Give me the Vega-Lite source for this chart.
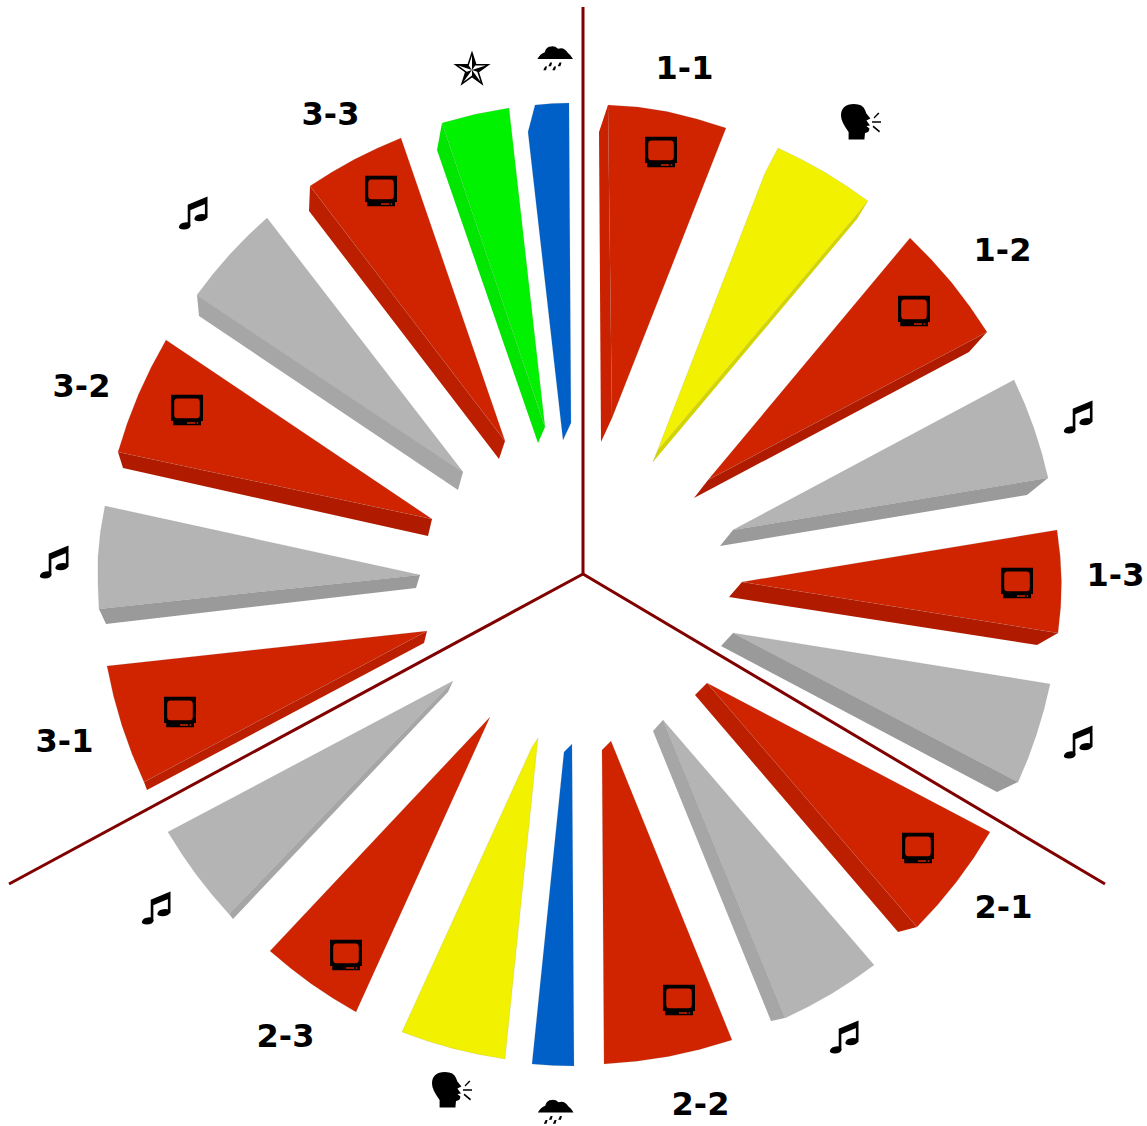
{"$schema":"https://vega.github.io/schema/vega-lite/v6.json","width":1147,"height":1126,"padding":0,"autosize":{"type":"none"},"background":"white","config":{"view":{"stroke":null}},
"datasets":{
"spokes":[{"spoke":"a","seq":0,"x":583,"y":7},{"spoke":"a","seq":1,"x":583,"y":574},{"spoke":"b","seq":0,"x":583,"y":574},{"spoke":"b","seq":1,"x":1105,"y":884},{"spoke":"c","seq":0,"x":583,"y":574},{"spoke":"c","seq":1,"x":9,"y":884}],
"sides":[
{"wedge":"1-1","surface":"tv side faint","seq":0,"x":608,"y":105},{"wedge":"1-1","surface":"tv side faint","seq":1,"x":599,"y":132},{"wedge":"1-1","surface":"tv side faint","seq":2,"x":601,"y":442},{"wedge":"1-1","surface":"tv side faint","seq":3,"x":612,"y":418},
{"wedge":"s1","surface":"speech side","seq":0,"x":868,"y":201},{"wedge":"s1","surface":"speech side","seq":1,"x":857,"y":219},{"wedge":"s1","surface":"speech side","seq":2,"x":653,"y":462},{"wedge":"s1","surface":"speech side","seq":3,"x":658,"y":450},
{"wedge":"1-2","surface":"tv side","seq":0,"x":987,"y":332},{"wedge":"1-2","surface":"tv side","seq":1,"x":969,"y":352},{"wedge":"1-2","surface":"tv side","seq":2,"x":694,"y":498},{"wedge":"1-2","surface":"tv side","seq":3,"x":708,"y":480},
{"wedge":"m1","surface":"music side","seq":0,"x":1048,"y":478},{"wedge":"m1","surface":"music side","seq":1,"x":1027,"y":495},{"wedge":"m1","surface":"music side","seq":2,"x":720,"y":546},{"wedge":"m1","surface":"music side","seq":3,"x":733,"y":530},
{"wedge":"1-3","surface":"tv side","seq":0,"x":1058,"y":633},{"wedge":"1-3","surface":"tv side","seq":1,"x":1037,"y":645},{"wedge":"1-3","surface":"tv side","seq":2,"x":729,"y":597},{"wedge":"1-3","surface":"tv side","seq":3,"x":742,"y":582},
{"wedge":"m2","surface":"music side","seq":0,"x":733,"y":633},{"wedge":"m2","surface":"music side","seq":1,"x":1018,"y":782},{"wedge":"m2","surface":"music side","seq":2,"x":997,"y":792},{"wedge":"m2","surface":"music side","seq":3,"x":721,"y":646},
{"wedge":"2-1","surface":"tv side soft","seq":0,"x":707,"y":683},{"wedge":"2-1","surface":"tv side soft","seq":1,"x":917,"y":927},{"wedge":"2-1","surface":"tv side soft","seq":2,"x":898,"y":932},{"wedge":"2-1","surface":"tv side soft","seq":3,"x":695,"y":695},
{"wedge":"m3","surface":"music side soft","seq":0,"x":663,"y":720},{"wedge":"m3","surface":"music side soft","seq":1,"x":785,"y":1018},{"wedge":"m3","surface":"music side soft","seq":2,"x":771,"y":1021},{"wedge":"m3","surface":"music side soft","seq":3,"x":653,"y":731},
{"wedge":"m4","surface":"music side soft","seq":0,"x":453,"y":681},{"wedge":"m4","surface":"music side soft","seq":1,"x":448,"y":692},{"wedge":"m4","surface":"music side soft","seq":2,"x":233,"y":919},{"wedge":"m4","surface":"music side soft","seq":3,"x":229,"y":914},
{"wedge":"3-1","surface":"tv side soft","seq":0,"x":144,"y":782},{"wedge":"3-1","surface":"tv side soft","seq":1,"x":147,"y":790},{"wedge":"3-1","surface":"tv side soft","seq":2,"x":424,"y":643},{"wedge":"3-1","surface":"tv side soft","seq":3,"x":427,"y":631},
{"wedge":"m5","surface":"music side","seq":0,"x":99,"y":609},{"wedge":"m5","surface":"music side","seq":1,"x":106,"y":624},{"wedge":"m5","surface":"music side","seq":2,"x":416,"y":588},{"wedge":"m5","surface":"music side","seq":3,"x":420,"y":575},
{"wedge":"3-2","surface":"tv side","seq":0,"x":118,"y":452},{"wedge":"3-2","surface":"tv side","seq":1,"x":123,"y":468},{"wedge":"3-2","surface":"tv side","seq":2,"x":428,"y":536},{"wedge":"3-2","surface":"tv side","seq":3,"x":432,"y":519},
{"wedge":"m6","surface":"music side soft","seq":0,"x":197,"y":295},{"wedge":"m6","surface":"music side soft","seq":1,"x":199,"y":316},{"wedge":"m6","surface":"music side soft","seq":2,"x":458,"y":490},{"wedge":"m6","surface":"music side soft","seq":3,"x":463,"y":472},
{"wedge":"3-3","surface":"tv side soft","seq":0,"x":310,"y":186},{"wedge":"3-3","surface":"tv side soft","seq":1,"x":309,"y":211},{"wedge":"3-3","surface":"tv side soft","seq":2,"x":499,"y":459},{"wedge":"3-3","surface":"tv side soft","seq":3,"x":505,"y":441},
{"wedge":"g1","surface":"star side","seq":0,"x":442,"y":123},{"wedge":"g1","surface":"star side","seq":1,"x":437,"y":150},{"wedge":"g1","surface":"star side","seq":2,"x":538,"y":443},{"wedge":"g1","surface":"star side","seq":3,"x":545,"y":427}
],
"tops":[
{"wedge":"1-1","surface":"tv top","seq":0,"x":608,"y":105},{"wedge":"1-1","surface":"tv top","seq":1,"x":638,"y":107},{"wedge":"1-1","surface":"tv top","seq":2,"x":667,"y":111.5},{"wedge":"1-1","surface":"tv top","seq":3,"x":697,"y":119},{"wedge":"1-1","surface":"tv top","seq":4,"x":726,"y":128},{"wedge":"1-1","surface":"tv top","seq":5,"x":612,"y":418},{"wedge":"1-1","surface":"tv top","seq":6,"x":608,"y":105},
{"wedge":"s1","surface":"speech top","seq":0,"x":778,"y":148},{"wedge":"s1","surface":"speech top","seq":1,"x":801.6,"y":159.4},{"wedge":"s1","surface":"speech top","seq":2,"x":824.5,"y":172},{"wedge":"s1","surface":"speech top","seq":3,"x":846.6,"y":185.9},{"wedge":"s1","surface":"speech top","seq":4,"x":868,"y":201},{"wedge":"s1","surface":"speech top","seq":5,"x":658,"y":450},{"wedge":"s1","surface":"speech top","seq":6,"x":653,"y":462},{"wedge":"s1","surface":"speech top","seq":7,"x":765,"y":173},{"wedge":"s1","surface":"speech top","seq":8,"x":778,"y":148},
{"wedge":"1-2","surface":"tv top","seq":0,"x":910,"y":238},{"wedge":"1-2","surface":"tv top","seq":1,"x":931.5,"y":259.7},{"wedge":"1-2","surface":"tv top","seq":2,"x":951.6,"y":282.6},{"wedge":"1-2","surface":"tv top","seq":3,"x":970,"y":306.7},{"wedge":"1-2","surface":"tv top","seq":4,"x":987,"y":332},{"wedge":"1-2","surface":"tv top","seq":5,"x":708,"y":480},{"wedge":"1-2","surface":"tv top","seq":6,"x":910,"y":238},
{"wedge":"m1","surface":"music top","seq":0,"x":1014,"y":380},{"wedge":"m1","surface":"music top","seq":1,"x":1024.6,"y":403.8},{"wedge":"m1","surface":"music top","seq":2,"x":1033.8,"y":428.1},{"wedge":"m1","surface":"music top","seq":3,"x":1041.6,"y":452.8},{"wedge":"m1","surface":"music top","seq":4,"x":1048,"y":478},{"wedge":"m1","surface":"music top","seq":5,"x":733,"y":530},{"wedge":"m1","surface":"music top","seq":6,"x":1014,"y":380},
{"wedge":"1-3","surface":"tv top","seq":0,"x":1057,"y":530},{"wedge":"1-3","surface":"tv top","seq":1,"x":1060.2,"y":556},{"wedge":"1-3","surface":"tv top","seq":2,"x":1061.5,"y":582},{"wedge":"1-3","surface":"tv top","seq":3,"x":1060.7,"y":607.3},{"wedge":"1-3","surface":"tv top","seq":4,"x":1058,"y":633},{"wedge":"1-3","surface":"tv top","seq":5,"x":742,"y":582},{"wedge":"1-3","surface":"tv top","seq":6,"x":1057,"y":530},
{"wedge":"m2","surface":"music top","seq":0,"x":733,"y":633},{"wedge":"m2","surface":"music top","seq":1,"x":1050,"y":684},{"wedge":"m2","surface":"music top","seq":2,"x":1044,"y":709.2},{"wedge":"m2","surface":"music top","seq":3,"x":1036.6,"y":733.9},{"wedge":"m2","surface":"music top","seq":4,"x":1028,"y":758.2},{"wedge":"m2","surface":"music top","seq":5,"x":1018,"y":782},{"wedge":"m2","surface":"music top","seq":6,"x":733,"y":633},
{"wedge":"2-1","surface":"tv top","seq":0,"x":707,"y":683},{"wedge":"2-1","surface":"tv top","seq":1,"x":990,"y":832},{"wedge":"2-1","surface":"tv top","seq":2,"x":974,"y":857.6},{"wedge":"2-1","surface":"tv top","seq":3,"x":956.4,"y":881.9},{"wedge":"2-1","surface":"tv top","seq":4,"x":937.5,"y":905},{"wedge":"2-1","surface":"tv top","seq":5,"x":917,"y":927},{"wedge":"2-1","surface":"tv top","seq":6,"x":707,"y":683},
{"wedge":"m3","surface":"music top","seq":0,"x":663,"y":720},{"wedge":"m3","surface":"music top","seq":1,"x":874,"y":965},{"wedge":"m3","surface":"music top","seq":2,"x":852.9,"y":980.1},{"wedge":"m3","surface":"music top","seq":3,"x":831,"y":994},{"wedge":"m3","surface":"music top","seq":4,"x":808.4,"y":1006.6},{"wedge":"m3","surface":"music top","seq":5,"x":785,"y":1018},{"wedge":"m3","surface":"music top","seq":6,"x":663,"y":720},
{"wedge":"2-2","surface":"tv top","seq":0,"x":611,"y":741},{"wedge":"2-2","surface":"tv top","seq":1,"x":732,"y":1040},{"wedge":"2-2","surface":"tv top","seq":2,"x":700.6,"y":1049.3},{"wedge":"2-2","surface":"tv top","seq":3,"x":668.8,"y":1056.4},{"wedge":"2-2","surface":"tv top","seq":4,"x":636.6,"y":1061.3},{"wedge":"2-2","surface":"tv top","seq":5,"x":604,"y":1064},{"wedge":"2-2","surface":"tv top","seq":6,"x":602,"y":750},{"wedge":"2-2","surface":"tv top","seq":7,"x":611,"y":741},
{"wedge":"r2","surface":"rain top","seq":0,"x":572,"y":744},{"wedge":"r2","surface":"rain top","seq":1,"x":574,"y":1066},{"wedge":"r2","surface":"rain top","seq":2,"x":553,"y":1065.5},{"wedge":"r2","surface":"rain top","seq":3,"x":532,"y":1064},{"wedge":"r2","surface":"rain top","seq":4,"x":564,"y":752},{"wedge":"r2","surface":"rain top","seq":5,"x":572,"y":744},
{"wedge":"s2","surface":"speech top","seq":0,"x":538,"y":738},{"wedge":"s2","surface":"speech top","seq":1,"x":505,"y":1059},{"wedge":"s2","surface":"speech top","seq":2,"x":478.7,"y":1054.4},{"wedge":"s2","surface":"speech top","seq":3,"x":452.7,"y":1048.4},{"wedge":"s2","surface":"speech top","seq":4,"x":427.2,"y":1040.9},{"wedge":"s2","surface":"speech top","seq":5,"x":402,"y":1032},{"wedge":"s2","surface":"speech top","seq":6,"x":532,"y":747},{"wedge":"s2","surface":"speech top","seq":7,"x":538,"y":738},
{"wedge":"2-3","surface":"tv top","seq":0,"x":490,"y":717},{"wedge":"2-3","surface":"tv top","seq":1,"x":356,"y":1012},{"wedge":"2-3","surface":"tv top","seq":2,"x":333.3,"y":998.6},{"wedge":"2-3","surface":"tv top","seq":3,"x":311.4,"y":983.9},{"wedge":"2-3","surface":"tv top","seq":4,"x":290.3,"y":968.1},{"wedge":"2-3","surface":"tv top","seq":5,"x":270,"y":951},{"wedge":"2-3","surface":"tv top","seq":6,"x":490,"y":717},
{"wedge":"m4","surface":"music top","seq":0,"x":453,"y":681},{"wedge":"m4","surface":"music top","seq":1,"x":168,"y":832},{"wedge":"m4","surface":"music top","seq":2,"x":181.7,"y":853.7},{"wedge":"m4","surface":"music top","seq":3,"x":196.4,"y":874.7},{"wedge":"m4","surface":"music top","seq":4,"x":212.2,"y":894.7},{"wedge":"m4","surface":"music top","seq":5,"x":229,"y":914},{"wedge":"m4","surface":"music top","seq":6,"x":453,"y":681},
{"wedge":"3-1","surface":"tv top","seq":0,"x":427,"y":631},{"wedge":"3-1","surface":"tv top","seq":1,"x":107,"y":666},{"wedge":"3-1","surface":"tv top","seq":2,"x":113.5,"y":695.9},{"wedge":"3-1","surface":"tv top","seq":3,"x":121.8,"y":725.2},{"wedge":"3-1","surface":"tv top","seq":4,"x":132,"y":753.9},{"wedge":"3-1","surface":"tv top","seq":5,"x":144,"y":782},{"wedge":"3-1","surface":"tv top","seq":6,"x":427,"y":631},
{"wedge":"m5","surface":"music top","seq":0,"x":420,"y":575},{"wedge":"m5","surface":"music top","seq":1,"x":105,"y":506},{"wedge":"m5","surface":"music top","seq":2,"x":100.5,"y":531.6},{"wedge":"m5","surface":"music top","seq":3,"x":98,"y":557},{"wedge":"m5","surface":"music top","seq":4,"x":98,"y":583},{"wedge":"m5","surface":"music top","seq":5,"x":99,"y":609},{"wedge":"m5","surface":"music top","seq":6,"x":420,"y":575},
{"wedge":"3-2","surface":"tv top","seq":0,"x":166,"y":340},{"wedge":"3-2","surface":"tv top","seq":1,"x":151.3,"y":366.9},{"wedge":"3-2","surface":"tv top","seq":2,"x":138.4,"y":394.5},{"wedge":"3-2","surface":"tv top","seq":3,"x":127.3,"y":422.9},{"wedge":"3-2","surface":"tv top","seq":4,"x":118,"y":452},{"wedge":"3-2","surface":"tv top","seq":5,"x":432,"y":519},{"wedge":"3-2","surface":"tv top","seq":6,"x":166,"y":340},
{"wedge":"m6","surface":"music top","seq":0,"x":267,"y":218},{"wedge":"m6","surface":"music top","seq":1,"x":247.9,"y":235.8},{"wedge":"m6","surface":"music top","seq":2,"x":229.8,"y":254.6},{"wedge":"m6","surface":"music top","seq":3,"x":212.9,"y":274.3},{"wedge":"m6","surface":"music top","seq":4,"x":197,"y":295},{"wedge":"m6","surface":"music top","seq":5,"x":463,"y":472},{"wedge":"m6","surface":"music top","seq":6,"x":267,"y":218},
{"wedge":"3-3","surface":"tv top","seq":0,"x":401,"y":138},{"wedge":"3-3","surface":"tv top","seq":1,"x":377.2,"y":148.2},{"wedge":"3-3","surface":"tv top","seq":2,"x":354.1,"y":159.5},{"wedge":"3-3","surface":"tv top","seq":3,"x":331.7,"y":172.2},{"wedge":"3-3","surface":"tv top","seq":4,"x":310,"y":186},{"wedge":"3-3","surface":"tv top","seq":5,"x":505,"y":441},{"wedge":"3-3","surface":"tv top","seq":6,"x":401,"y":138},
{"wedge":"g1","surface":"star top","seq":0,"x":509,"y":108},{"wedge":"g1","surface":"star top","seq":1,"x":545,"y":427},{"wedge":"g1","surface":"star top","seq":2,"x":442,"y":123},{"wedge":"g1","surface":"star top","seq":3,"x":475.2,"y":114.2},{"wedge":"g1","surface":"star top","seq":4,"x":509,"y":108},
{"wedge":"r1","surface":"rain top","seq":0,"x":569,"y":103},{"wedge":"r1","surface":"rain top","seq":1,"x":571,"y":423},{"wedge":"r1","surface":"rain top","seq":2,"x":563,"y":440},{"wedge":"r1","surface":"rain top","seq":3,"x":528,"y":132},{"wedge":"r1","surface":"rain top","seq":4,"x":535,"y":105},{"wedge":"r1","surface":"rain top","seq":5,"x":552,"y":103.5},{"wedge":"r1","surface":"rain top","seq":6,"x":569,"y":103}
],
"icons":[
{"icon":"tv","x":661,"y":152},{"icon":"tv","x":914,"y":311},{"icon":"tv","x":1017,"y":583},{"icon":"tv","x":918,"y":848},{"icon":"tv","x":679,"y":1000},{"icon":"tv","x":346,"y":955},{"icon":"tv","x":180,"y":712},{"icon":"tv","x":187,"y":410},{"icon":"tv","x":381,"y":191},
{"icon":"music","x":1078,"y":417},{"icon":"music","x":1078,"y":742},{"icon":"music","x":844,"y":1037},{"icon":"music","x":156,"y":908},{"icon":"music","x":54,"y":562},{"icon":"music","x":193,"y":213},
{"icon":"speech","x":861,"y":122},{"icon":"speech","x":452,"y":1090},
{"icon":"rain","x":555,"y":59},{"icon":"rain","x":555.5,"y":1112.5},
{"icon":"star","x":472,"y":70}
],
"labels":[
{"label":"1-1","x":684.5,"y":69},{"label":"1-2","x":1002.5,"y":251},{"label":"1-3","x":1115.5,"y":576},{"label":"2-1","x":1003.5,"y":908},{"label":"2-2","x":700.5,"y":1105},{"label":"2-3","x":285.5,"y":1037},{"label":"3-1","x":64.5,"y":742},{"label":"3-2","x":81.5,"y":387},{"label":"3-3","x":330.5,"y":115}
]},
"encoding":{
"x":{"field":"x","type":"quantitative","scale":{"domain":[0,1147],"range":[0,1147]},"axis":null},
"y":{"field":"y","type":"quantitative","scale":{"domain":[0,1126],"range":[0,1126]},"axis":null}
},
"layer":[
{"data":{"name":"spokes"},"mark":{"type":"line","stroke":"#800000","strokeWidth":3,"strokeJoin":"miter"},"encoding":{"detail":{"field":"spoke"},"order":{"field":"seq","type":"quantitative"}}},
{"data":{"name":"sides"},"mark":{"type":"line","filled":true,"strokeWidth":0},"encoding":{"detail":{"field":"wedge"},"order":{"field":"seq","type":"quantitative"},"color":{"field":"surface","type":"nominal","legend":null,"scale":{"domain":["tv top","tv side","tv side soft","tv side faint","music top","music side","music side soft","speech top","speech side","rain top","star top","star side"],"range":["#D02300","#B01B00","#BC1F00","#CA2200","#B4B4B4","#9A9A9A","#A6A6A6","#F2F200","#D4D400","#0060C8","#00F200","#00E600"]}}}},
{"data":{"name":"tops"},"mark":{"type":"line","filled":true,"stroke":"#808080","strokeWidth":0.5,"strokeOpacity":0.3},"encoding":{"detail":{"field":"wedge"},"order":{"field":"seq","type":"quantitative"},"color":{"field":"surface","type":"nominal","legend":null,"scale":{"domain":["tv top","tv side","tv side soft","tv side faint","music top","music side","music side soft","speech top","speech side","rain top","star top","star side"],"range":["#D02300","#B01B00","#BC1F00","#CA2200","#B4B4B4","#9A9A9A","#A6A6A6","#F2F200","#D4D400","#0060C8","#00F200","#00E600"]}}}},
{"data":{"name":"icons"},"mark":{"type":"point","filled":true,"opacity":1,"strokeWidth":0,"color":"black"},"encoding":{
"shape":{"field":"icon","type":"nominal","legend":null,"scale":{"domain":["tv","music","speech","rain","star"],"range":[
"M-1,-0.96L1,-0.96L1,0.69L0.875,0.69L0.875,0.96L-0.86,0.96L-0.86,0.69L-1,0.69ZM-0.6,-0.72Q-0.8,-0.72 -0.8,-0.5L-0.8,0.3Q-0.8,0.52 -0.6,0.52L0.6,0.52Q0.8,0.52 0.8,0.3L0.8,-0.5Q0.8,-0.72 0.6,-0.72ZM0,0.76L0,0.86L0.5,0.86L0.5,0.76ZM0.6,0.76L0.6,0.86L0.7,0.86L0.7,0.76Z",
"M-0.86,0.85Q-0.8,0.58 -0.4,0.56Q-0.14,0.56 -0.14,0.78Q-0.2,1 -0.55,1Q-0.86,1 -0.86,0.85ZM0.08,0.35Q0.14,0.08 0.54,0.06Q0.88,0.06 0.88,0.28Q0.74,0.5 0.39,0.5Q0.08,0.5 0.08,0.35ZM-0.32,-0.5L-0.16,-0.5L-0.16,0.8L-0.32,0.8ZM0.72,-0.8L0.88,-0.8L0.88,0.3L0.72,0.3ZM-0.32,-0.5L0.88,-1L0.88,-0.6L-0.32,-0.1Z",
"M-0.62,0.88L-0.62,0.5Q-0.8,0.25 -0.9,0.05Q-1,-0.15 -1,-0.33Q-1,-0.88 -0.35,-0.9Q0.1,-0.9 0.2,-0.6L0.27,-0.42L0.47,-0.18L0.27,-0.08L0.45,0.17L0.27,0.2L0.42,0.32Q0.42,0.52 0.2,0.55L0.17,0.88ZM0.63,-0.23L0.86,-0.47L0.92,-0.42L0.67,-0.17ZM0.55,-0.04L1,-0.04L1,0.04L0.55,0.04ZM0.62,0.18L0.95,0.45L0.91,0.52L0.58,0.25Z",
"M-0.98,0Q-0.8,-0.3 -0.57,-0.37Q-0.5,-0.7 -0.2,-0.7Q0,-0.72 0.17,-0.57Q0.5,-0.7 0.72,-0.33Q0.85,-0.25 1,0ZM-0.55,0.42L-0.44,0.42L-0.5,0.62L-0.65,0.62ZM-0.05,0.42L0.06,0.42L0,0.62L-0.15,0.62ZM-0.27,0.2L-0.16,0.2L-0.22,0.4L-0.37,0.4ZM0.25,0.2L0.36,0.2L0.3,0.4L0.15,0.4Z",
"M0,-1L0.2245,-0.309L0.951,-0.309L0.363,0.118L0.588,0.809L0,0.382L-0.588,0.809L-0.363,0.118L-0.951,-0.309L-0.2245,-0.309ZM0,-0.74L-0.166,-0.229L-0.704,-0.229L-0.269,0.087L-0.435,0.599L0,0.283L0.435,0.599L0.269,0.087L0.704,-0.229L0.166,-0.229ZM0,0L0,-0.74L0.166,-0.229ZM0,0L0.704,-0.229L0.269,0.087ZM0,0L0.435,0.599L0,0.283ZM0,0L-0.435,0.599L-0.269,0.087ZM0,0L-0.704,-0.229L-0.166,-0.229Z"
]}},
"size":{"field":"icon","type":"nominal","legend":null,"scale":{"type":"ordinal","domain":["tv","music","speech","rain","star"],"range":[1024,1089,1600,1296,1521]}}
}},
{"data":{"name":"labels"},"mark":{"type":"text","font":"DejaVu Sans","fontWeight":"bold","fontSize":32,"align":"center","baseline":"middle","color":"black"},"encoding":{"text":{"field":"label","type":"nominal"}}}
]}
